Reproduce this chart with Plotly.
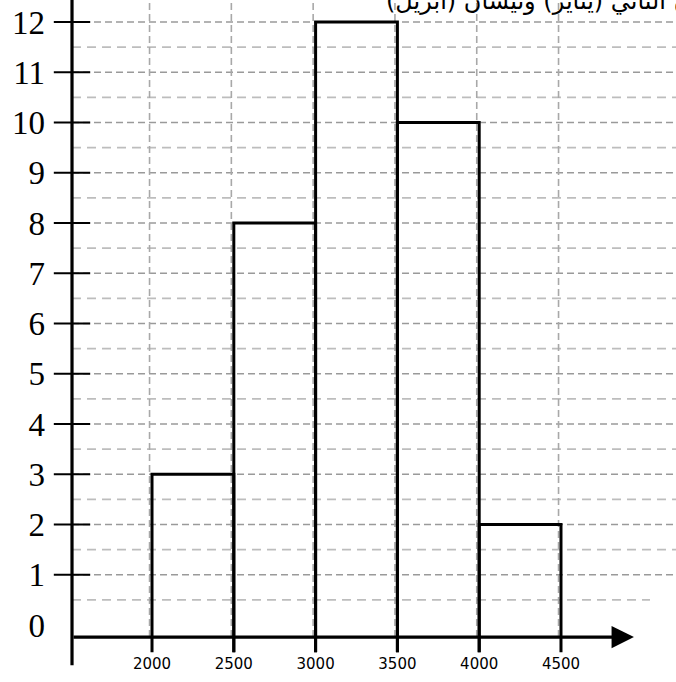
import plotly.graph_objects as go

# ---- data ----
bin_edges = [2000, 2500, 3000, 3500, 4000, 4500]
counts = [3, 8, 12, 10, 2]
x_tick_labels = ["2000", "2500", "3000", "3500", "4000", "4500"]
y_tick_values = list(range(0, 13))
y_tick_labels = [str(v) for v in y_tick_values]
title_text = "كانون الثاني (يناير) ونيسان (أبريل)."

# ---- layout constants (data-space) ----
X_MIN, X_MAX = 1352, 5203
Y_MIN, Y_MAX = -1.134, 12.438
AXIS_X = 1511
AXIS_Y = -0.24
BAR_BASE = -0.54
ARROW_END = 4946
LABEL_Y = -0.8

fig = go.Figure()

# horizontal grid: integer (darker) and half (lighter)
for k in range(1, 13):
    fig.add_trace(go.Scatter(x=[AXIS_X, X_MAX], y=[k, k], mode="lines",
                             line=dict(color="#9a9a9a", width=1.6, dash="7px,4px"),
                             hoverinfo="skip", showlegend=False))
for k in range(0, 12):
    h = k + 0.5
    xe = 5044 if k == 0 else X_MAX
    fig.add_trace(go.Scatter(x=[AXIS_X, xe], y=[h, h], mode="lines",
                             line=dict(color="#bdbdbd", width=1.6, dash="9px,6px"),
                             hoverinfo="skip", showlegend=False))
# vertical grid at bin edges
for e in bin_edges:
    fig.add_trace(go.Scatter(x=[e - 15, e - 15], y=[AXIS_Y, Y_MAX], mode="lines",
                             line=dict(color="#a8a8a8", width=1.6, dash="7px,4px"),
                             hoverinfo="skip", showlegend=False))

# histogram outlines
hx, hy = [], []
for i, c in enumerate(counts):
    l, r = bin_edges[i], bin_edges[i + 1]
    hx += [l, l, r, r, None]
    hy += [BAR_BASE, c, c, BAR_BASE, None]
fig.add_trace(go.Scatter(x=hx, y=hy, mode="lines",
                         line=dict(color="black", width=3),
                         hoverinfo="skip", showlegend=False))

# y axis line
fig.add_trace(go.Scatter(x=[AXIS_X, AXIS_X], y=[LABEL_Y, Y_MAX], mode="lines",
                         line=dict(color="black", width=3.2),
                         hoverinfo="skip", showlegend=False))
# y tick marks crossing the axis
fig.add_trace(go.Scatter(x=[AXIS_X] * 12, y=y_tick_values[1:], mode="markers",
                         marker=dict(symbol="line-ew", size=26,
                                     line=dict(color="black", width=2.2)),
                         hoverinfo="skip", showlegend=False))

# x tick labels
fig.add_trace(go.Scatter(x=bin_edges, y=[LABEL_Y] * len(bin_edges), mode="text",
                         text=x_tick_labels,
                         textfont=dict(family="DejaVu Sans", size=15, color="black"),
                         hoverinfo="skip", showlegend=False, cliponaxis=False))

# x axis with arrow
fig.add_annotation(x=ARROW_END, y=AXIS_Y, ax=AXIS_X, ay=AXIS_Y,
                   xref="x", yref="y", axref="x", ayref="y",
                   showarrow=True, arrowhead=2, arrowsize=1.4, arrowwidth=3.2,
                   arrowcolor="black", text="")

# header text (partially cut off at the top, as in the source scan)
fig.add_annotation(x=0.537, y=1.0, xref="paper", yref="paper",
                   xanchor="left", yanchor="middle", showarrow=False,
                   text=title_text,
                   font=dict(family="DejaVu Sans", size=24, color="black"))

fig.update_layout(
    width=676, height=682,
    margin=dict(l=46, r=0, t=0, b=0, autoexpand=False),
    paper_bgcolor="white", plot_bgcolor="white",
    xaxis=dict(range=[X_MIN, X_MAX], visible=False, fixedrange=True, automargin=False),
    yaxis=dict(range=[Y_MIN, Y_MAX], tickvals=y_tick_values, ticktext=y_tick_labels,
               showgrid=False, zeroline=False, showline=False, ticks="",
               automargin=False,
               tickfont=dict(family="Liberation Serif", size=33, color="black"),
               fixedrange=True),
)

fig.write_html("out.html",
               config={"displayModeBar": False},
               post_script="document.body.style.margin='0';document.body.style.padding='0';")
